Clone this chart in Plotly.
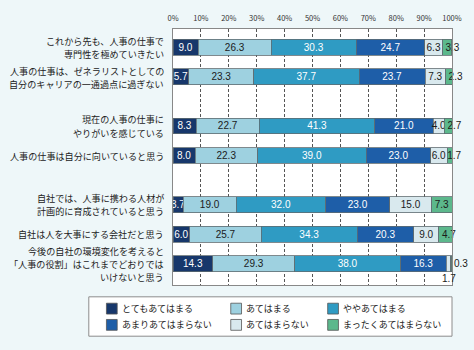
import plotly.graph_objects as go

# ---------------- data ----------------
categories = [
    "これから先も、人事の仕事で<br>専門性を極めていきたい",
    "人事の仕事は、ゼネラリストとしての<br>自分のキャリアの一通過点に過ぎない",
    "現在の人事の仕事に<br>やりがいを感じている",
    "人事の仕事は自分に向いていると思う",
    "自社では、人事に携わる人材が<br>計画的に育成されていると思う",
    "自社は人を大事にする会社だと思う",
    "今後の自社の環境変化を考えると<br>「人事の役割」はこれまでどおりでは<br>いけないと思う",
]
series_names = ["とてもあてはまる", "あてはまる", "ややあてはまる",
                "あまりあてはまらない", "あてはまらない", "まったくあてはまらない"]
very_true = [9.0, 5.7, 8.3, 8.0, 3.7, 6.0, 14.3]
true_ = [26.3, 23.3, 22.7, 22.3, 19.0, 25.7, 29.3]
somewhat = [30.3, 37.7, 41.3, 39.0, 32.0, 34.3, 38.0]
not_really = [24.7, 23.7, 21.0, 23.0, 23.0, 20.3, 16.3]
not_true = [6.3, 7.3, 4.0, 6.0, 15.0, 9.0, 1.7]
not_at_all = [3.3, 2.3, 2.7, 1.7, 7.3, 4.7, 0.3]
x_ticks = [0, 10, 20, 30, 40, 50, 60, 70, 80, 90, 100]

series_values = [very_true, true_, somewhat, not_really, not_true, not_at_all]

# ---------------- layout / style ----------------
row_slots = [0, 3, 8, 11, 16, 19, 22]      # vertical slot of each row (uneven spacing)
bar_width = 1.6
colors = ["#17376b", "#9ed1e0", "#2f9bc3", "#1e5ea8", "#d9e9ee", "#5cb88c"]
text_colors = ["#ffffff", "#1b1b1b", "#ffffff", "#ffffff", "#1b1b1b", "#1b1b1b"]
W, H = 474, 350
ML, MR, MT, MB = 173, 16, 25, 65
PW, PH = W - ML - MR, H - MT - MB
bg = "#eef7f9"
jp_font = "Noto Sans CJK JP"
label_size = 9.1
label_line_gap = 13.2


def px2x(px):
    return (px - ML) / PW


def py2y(py):
    return (MT + PH - py) / PH


fig = go.Figure()
annotations = []

for si, (name, vals) in enumerate(zip(series_names, series_values)):
    texts = []
    for ri, v in enumerate(vals):
        cum_before = sum(series_values[k][ri] for k in range(si))
        outside = (si == 4 and v < 2) or (si == 5 and v < 1)
        if outside:
            texts.append("")
            if si == 4:
                annotations.append(dict(
                    x=cum_before + v / 2, y=row_slots[ri] + bar_width / 2,
                    xref="x", yref="y", text=f"{v:.1f}", showarrow=False,
                    xanchor="center", yanchor="top", yshift=1,
                    font=dict(family="Liberation Sans", size=10, color="#1b1b1b")))
            else:
                annotations.append(dict(
                    x=cum_before + v, y=row_slots[ri],
                    xref="x", yref="y", text=f"{v:.1f}", showarrow=False,
                    xanchor="left", yanchor="middle", xshift=0,
                    font=dict(family="Liberation Sans", size=10, color="#1b1b1b")))
        else:
            texts.append(f"{v:.1f}")
    fig.add_trace(go.Bar(
        y=row_slots, x=vals, orientation="h", name=name,
        width=bar_width,
        marker=dict(color=colors[si], line=dict(color="#5f6b70", width=0.8)),
        text=texts, textposition="inside", textangle=0,
        insidetextanchor="start" if si == 5 else "middle",
        textfont=dict(family="Liberation Sans", size=10, color=text_colors[si]),
        cliponaxis=False, showlegend=False, hoverinfo="skip",
    ))

# category labels, one annotation per line
for ri, cat in enumerate(categories):
    lines = cat.split("<br>")
    n = len(lines)
    for j, line in enumerate(lines):
        annotations.append(dict(
            x=0, xref="paper", y=row_slots[ri], yref="y",
            text=line, showarrow=False, xanchor="right", yanchor="middle",
            xshift=-7, yshift=-(j - (n - 1) / 2) * label_line_gap + (-1 if ri == 1 else 0),
            font=dict(family=jp_font, size=label_size, color="#222222")))

# manual legend
legend_cols = [105, 232, 331]
legend_rows = [309, 325.5]
shapes = [dict(type="rect", xref="paper", yref="paper",
               x0=px2x(87), x1=px2x(458), y0=py2y(337), y1=py2y(297),
               fillcolor="white", line=dict(color="#8c8c8c", width=1), layer="below")]
for i, name in enumerate(series_names):
    cx = legend_cols[i % 3]
    cy = legend_rows[i // 3]
    shapes.append(dict(type="rect", xref="paper", yref="paper",
                       x0=px2x(cx), x1=px2x(cx + 11), y0=py2y(cy + 5.5), y1=py2y(cy - 5.5),
                       fillcolor=colors[i], line=dict(color="#555555", width=0.8)))
    annotations.append(dict(x=px2x(cx + 14), y=py2y(cy), xref="paper", yref="paper",
                            text=name, showarrow=False, xanchor="left", yanchor="middle",
                            font=dict(family=jp_font, size=9, color="#222222")))

fig.update_layout(
    width=W, height=H, barmode="stack",
    margin=dict(l=ML, r=MR, t=MT, b=MB),
    paper_bgcolor=bg, plot_bgcolor="white",
    uniformtext=dict(minsize=10, mode="show"),
    shapes=shapes, annotations=annotations,
    showlegend=False,
)
fig.update_xaxes(
    range=[0, 100], side="top", tickvals=x_ticks, ticktext=[f"{t}%" for t in x_ticks],
    tickfont=dict(family=jp_font, size=7.5, color="#333333"),
    showgrid=True, gridcolor="#555555", gridwidth=1, griddash="3px,2px",
    showline=True, linecolor="#888888", linewidth=1, mirror=True,
    ticks="", ticklabelstandoff=4, zeroline=False, fixedrange=True,
)
fig.update_yaxes(
    range=[24.15, -1.85], tickvals=row_slots, showticklabels=False,
    showgrid=False, showline=True, linecolor="#888888", linewidth=1, mirror=True,
    ticks="", zeroline=False, fixedrange=True,
)

fig.write_html("out.html")
